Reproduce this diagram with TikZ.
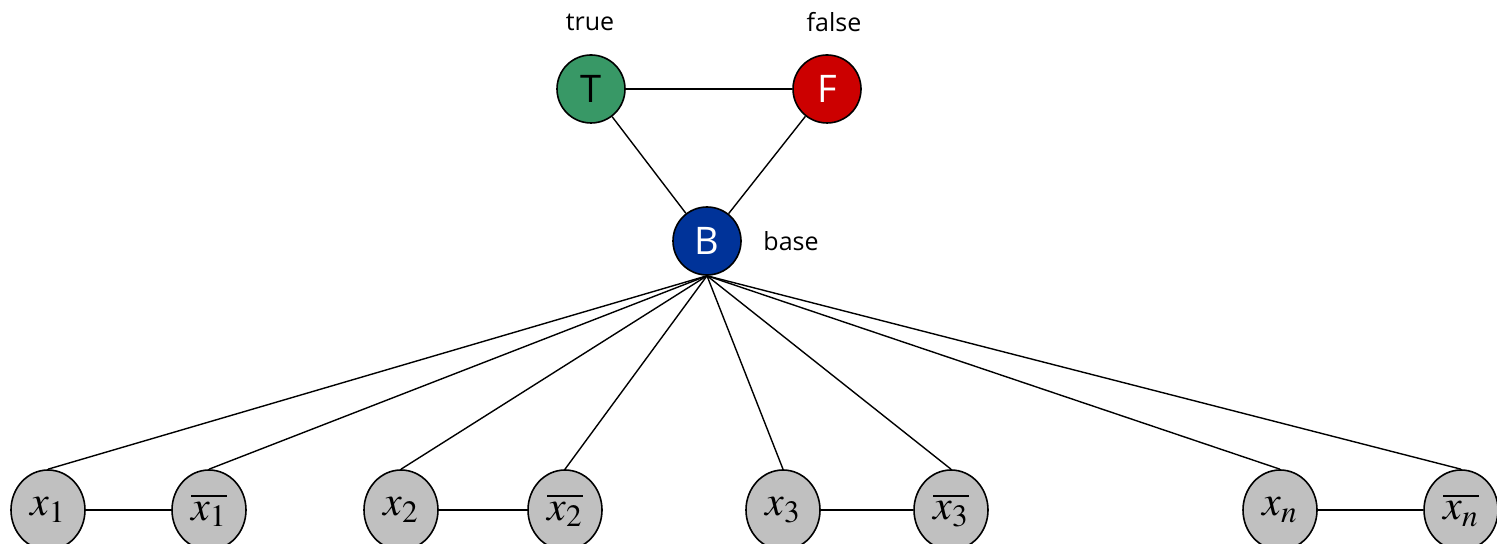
\documentclass[tikz,border=0pt]{standalone}
\usepackage{mathptmx}
\usepackage{fontspec}
\setmainfont{Open Sans}
\usetikzlibrary{shapes.geometric}
\definecolor{truegreen}{RGB}{56,152,102}
\definecolor{falsered}{RGB}{204,0,0}
\definecolor{baseblue}{RGB}{0,51,153}
\definecolor{litgray}{RGB}{192,192,192}
\begin{document}
\begin{tikzpicture}[x=0.5pt,y=0.5pt,
    colour/.style={circle,draw,line width=0.8pt,minimum size=34pt,inner sep=0pt,font=\fontsize{19}{22}\selectfont},
    literal/.style={ellipse,draw,line width=0.8pt,fill=litgray,minimum width=37pt,minimum height=40pt,inner sep=0pt,font=\fontsize{21}{24}\selectfont},
    tag/.style={font=\fontsize{12.5}{14}\selectfont},
    every path/.style={line width=0.7pt}]
    \useasboundingbox (0,0) rectangle (1497,544);
    \node [colour,fill=truegreen] (T) at (591,455) {T};
    \node [colour,fill=falsered,text=white] (F) at (827,455) {F};
    \node [colour,fill=baseblue,text=white] (B) at (707,303) {B};
    \node [tag] (truetag) at (590,522) {true};
    \node [tag] (falsetag) at (834,522) {false};
    \node [tag] (basetag) at (791,303) {base};
    \draw (T) -- (F);
    \draw (T) -- (B);
    \draw (F) -- (B);
    \foreach \n/\x/\lab in {x1/48/{$x_1$},nx1/209/{$\overline{x_1}$},
        x2/401/{$x_2$},nx2/565/{$\overline{x_2}$},
        x3/783/{$x_3$},nx3/951/{$\overline{x_3}$},
        xn/1280/{$x_n$},nxn/1461/{$\overline{x_n}$}} {
        \node [literal] (\n) at (\x,34) {\lab};
        \draw (B.south) -- (\n.north);
      }
    \foreach \a/\b in {x1/nx1,x2/nx2,x3/nx3,xn/nxn}
        \draw (\a) -- (\b);
  \end{tikzpicture}
\end{document}
